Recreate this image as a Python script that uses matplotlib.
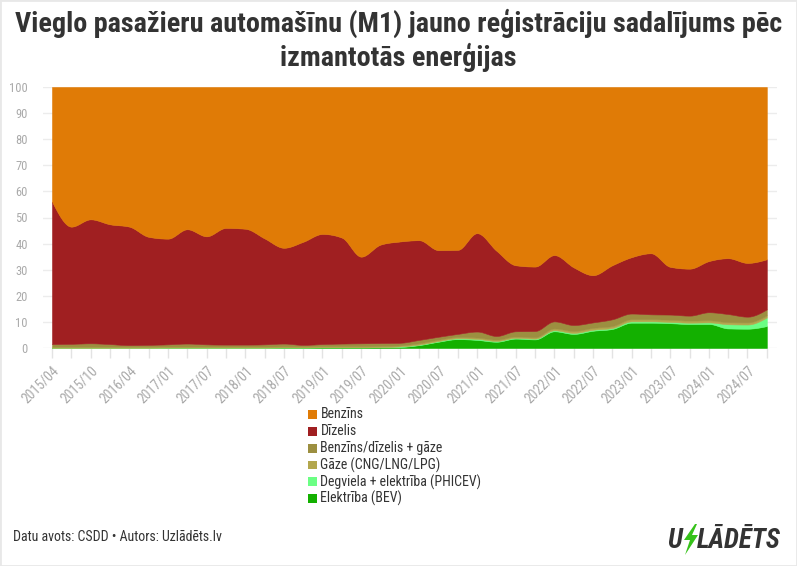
import numpy as np
import matplotlib
matplotlib.use('Agg')
import matplotlib.pyplot as plt
from matplotlib import font_manager as fm
from matplotlib.patches import Rectangle, Polygon

# ---------------- data ----------------
periods = ['2015/04', '2015/07', '2015/10', '2016/01', '2016/04', '2016/07',
           '2017/01', '2017/04', '2017/07', '2017/10', '2018/01', '2018/04',
           '2018/07', '2018/10', '2019/01', '2019/04', '2019/07', '2019/10',
           '2020/01', '2020/04', '2020/07', '2020/10', '2021/01', '2021/04',
           '2021/07', '2021/10', '2022/01', '2022/04', '2022/07', '2022/10',
           '2023/01', '2023/04', '2023/07', '2023/10', '2024/01', '2024/04',
           '2024/07', '2024/10']

benzins = [43.9, 53.5, 50.7, 52.6, 53.5, 57.4, 58.1, 54.5, 57.2, 54.0, 54.3, 58.0,
           61.6, 59.3, 56.3, 57.7, 65.0, 60.4, 59.2, 58.7, 62.5, 62.4, 56.0, 62.7,
           68.3, 68.8, 64.4, 69.1, 72.1, 68.3, 65.2, 63.7, 68.9, 69.6, 66.7, 65.6,
           67.4, 66.0]
dizelis = [54.6, 44.9, 47.5, 45.9, 45.4, 41.4, 40.5, 43.8, 41.4, 44.7, 44.4, 40.6,
           36.7, 39.5, 42.2, 40.6, 33.2, 37.7, 38.8, 38.2, 33.2, 32.2, 37.7, 32.7,
           25.3, 24.7, 25.4, 22.1, 18.1, 20.7, 21.6, 23.4, 18.3, 18.0, 19.6, 21.4,
           20.6, 19.2]
benz_diz_gaze = [1.0, 1.1, 1.3, 1.0, 0.6, 0.7, 0.85, 1.15, 0.85, 0.75, 0.75, 0.85,
                 1.1, 0.6, 0.85, 1.05, 1.15, 1.15, 1.0, 1.3, 1.15, 1.2, 2.3, 1.4,
                 2.0, 2.4, 2.7, 2.3, 2.1, 2.6, 2.2, 1.9, 2.0, 1.9, 3.1, 3.1, 2.2, 2.3]
gaze = [0.4, 0.4, 0.4, 0.4, 0.4, 0.4, 0.4, 0.4, 0.4, 0.4, 0.4, 0.4, 0.4, 0.4,
        0.4, 0.4, 0.4, 0.4, 0.4, 0.5, 0.5, 0.5, 0.5, 0.5, 0.5, 0.5, 0.7, 0.7,
        0.7, 0.7, 0.8, 0.8, 0.8, 0.8, 0.8, 0.8, 0.8, 0.8]
phicev = [0.05, 0.05, 0.05, 0.05, 0.05, 0.05, 0.05, 0.05, 0.05, 0.05, 0.05, 0.05,
          0.05, 0.05, 0.05, 0.05, 0.05, 0.05, 0.2, 0.2, 0.25, 0.3, 0.4, 0.3,
          0.3, 0.3, 0.4, 0.4, 0.4, 0.4, 0.5, 0.5, 0.5, 0.5, 0.6, 1.6, 1.6, 3.3]
bev = [0.05, 0.05, 0.05, 0.05, 0.05, 0.05, 0.1, 0.1, 0.1, 0.1, 0.1, 0.1,
       0.15, 0.15, 0.2, 0.2, 0.2, 0.3, 0.4, 1.1, 2.4, 3.4, 3.1, 2.4,
       3.6, 3.3, 6.4, 5.4, 6.6, 7.3, 9.7, 9.7, 9.5, 9.2, 9.2, 7.5, 7.4, 8.4]

series_names = ['Benzīns', 'Dīzelis', 'Benzīns/dīzelis + gāze', 'Gāze (CNG/LNG/LPG)',
                'Degviela + elektrība (PHICEV)', 'Elektrība (BEV)']
series_colors = ['#E07B06', '#A01F21', '#9C8F40', '#B3A74D', '#6BFF84', '#13B000']
series_values = [benzins, dizelis, benz_diz_gaze, gaze, phicev, bev]


# ---------------- helpers ----------------
def pick(cands):
    for c in cands:
        try:
            fm.findfont(fm.FontProperties(family=c), fallback_to_default=False)
            return c
        except Exception:
            pass
    return 'DejaVu Sans'


FONT = pick(['Roboto Condensed', 'Liberation Sans Narrow', 'Roboto'])
plt.rcParams['font.family'] = [FONT, 'DejaVu Sans']


def monotone_x(y, n=24):
    """d3 curveMonotoneX style rendering of a series."""
    y = np.asarray(y, float)
    s = np.diff(y)
    t = np.zeros_like(y)
    for i in range(1, len(y) - 1):
        s0, s1 = s[i - 1], s[i]
        p = (s0 + s1) / 2
        t[i] = (np.sign(s0) + np.sign(s1)) * min(abs(s0), abs(s1), 0.5 * abs(p))
    t[0] = (3 * s[0] - t[1]) / 2
    t[-1] = (3 * s[-1] - t[-2]) / 2
    u = np.linspace(0, 1, n, endpoint=False)
    h00 = 2 * u**3 - 3 * u**2 + 1
    h10 = u**3 - 2 * u**2 + u
    h01 = -2 * u**3 + 3 * u**2
    h11 = u**3 - u**2
    xs, ys = [], []
    for i in range(len(y) - 1):
        xs.append(i + u)
        ys.append(h00 * y[i] + h10 * t[i] + h01 * y[i + 1] + h11 * t[i + 1])
    xs.append([len(y) - 1])
    ys.append([y[-1]])
    return np.concatenate(xs), np.concatenate(ys)


# ---------------- figure ----------------
W, H = 797, 566
fig = plt.figure(figsize=(W / 100, H / 100), dpi=100)
fig.patch.set_facecolor('white')
fig.patches.append(Rectangle((0, 0), 1, 1, transform=fig.transFigure, fill=False,
                             edgecolor='#e8e8e8', lw=2))

x0_px, step_px = 52.0, (766.8 - 52.0) / 37
ax_l, ax_r, ax_b, ax_t = 43, 777, 348, 87
ax = fig.add_axes([ax_l / W, (H - ax_b) / H, (ax_r - ax_l) / W, (ax_b - ax_t) / H])
ax.set_xlim((ax_l - x0_px) / step_px, (ax_r - x0_px) / step_px)
ax.set_ylim(0, 100)
for sp in ax.spines.values():
    sp.set_visible(False)

# stacked areas (bottom -> top)
stack_order = list(range(len(series_values)))[::-1]
cum = np.zeros(len(periods))
boundaries = [np.zeros(len(periods))]
for k in stack_order:
    cum = cum + np.asarray(series_values[k])
    boundaries.append(cum.copy())
smooth = []
for b in boundaries:
    xs, ys = monotone_x(b)
    smooth.append(ys)
for j in range(1, len(smooth)):
    smooth[j] = np.maximum(smooth[j], smooth[j - 1])
for j, k in enumerate(stack_order):
    ax.fill_between(xs, smooth[j], smooth[j + 1], facecolor=series_colors[k],
                    edgecolor=series_colors[k], lw=0.4, zorder=2)

# grid & ticks
ax.set_yticks(np.arange(0, 101, 10))
ax.yaxis.grid(True, color='#ececec', lw=1, zorder=0)
ax.set_axisbelow(True)
ax.tick_params(axis='y', length=0, pad=11, labelsize=9, labelcolor='#aaaaaa')
ax.set_xticks(np.arange(len(periods)))
ax.set_xticklabels([p if i % 2 == 0 else '' for i, p in enumerate(periods)],
                   rotation=45, ha='right', rotation_mode='anchor')
ax.tick_params(axis='x', length=7, width=1, color='#e3e3e3', pad=4,
               labelsize=10, labelcolor='#aaaaaa')

# title
t1 = fig.text(0.5, 1 - 23 / H, 'Vieglo pasažieru automašīnu (M1) jauno reģistrāciju sadalījums pēc',
              ha='center', va='center', fontsize=21, fontweight='bold', color='#333333')
t2 = fig.text(0.5, 1 - 57 / H, 'izmantotās enerģijas',
              ha='center', va='center', fontsize=21, fontweight='bold', color='#333333')
fig.canvas.draw()
r = fig.canvas.get_renderer()
wt = t1.get_window_extent(r).width
fs = 21 * 766 / wt
t1.set_fontsize(fs)
t2.set_fontsize(fs)

# legend (manual)
for i, (lab, col) in enumerate(zip(series_names, series_colors)):
    yc = 414.3 + 16.9 * i
    fig.patches.append(Rectangle((308 / W, 1 - (yc + 4.4) / H), 8.8 / W, 8.8 / H,
                                 transform=fig.transFigure, facecolor=col,
                                 edgecolor='none'))
    fig.text(320.5 / W, 1 - yc / H, lab, ha='left', va='center', fontsize=10,
             color='#333333')

# footer
fig.text(13 / W, 1 - 537 / H, 'Datu avots: CSDD • Autors: Uzlādēts.lv', ha='left',
         va='center', fontsize=10, color='#333333')

# logo
lu = fig.text(667 / W, 1 - 548 / H, 'U', ha='left', va='baseline', fontsize=20,
              fontweight='bold', fontstyle='italic', color='#333333')
ll = fig.text(697 / W, 1 - 548 / H, 'LĀDĒTS', ha='left', va='baseline', fontsize=20,
              fontweight='bold', fontstyle='italic', color='#333333')
fig.canvas.draw()
wl = ll.get_window_extent(fig.canvas.get_renderer()).width
ll.set_fontsize(20 * 84 / wl)
lu.set_fontsize(20 * 84 / wl)
bolt = [(695, 524), (684, 540), (690, 540), (685, 555), (698, 535), (692, 535), (697, 524)]
fig.patches.append(Polygon([(x / W, 1 - y / H) for x, y in bolt], closed=True,
                           transform=fig.transFigure, facecolor='#36C21A', edgecolor='none'))

fig.savefig('out.png', dpi=100, facecolor='white')
